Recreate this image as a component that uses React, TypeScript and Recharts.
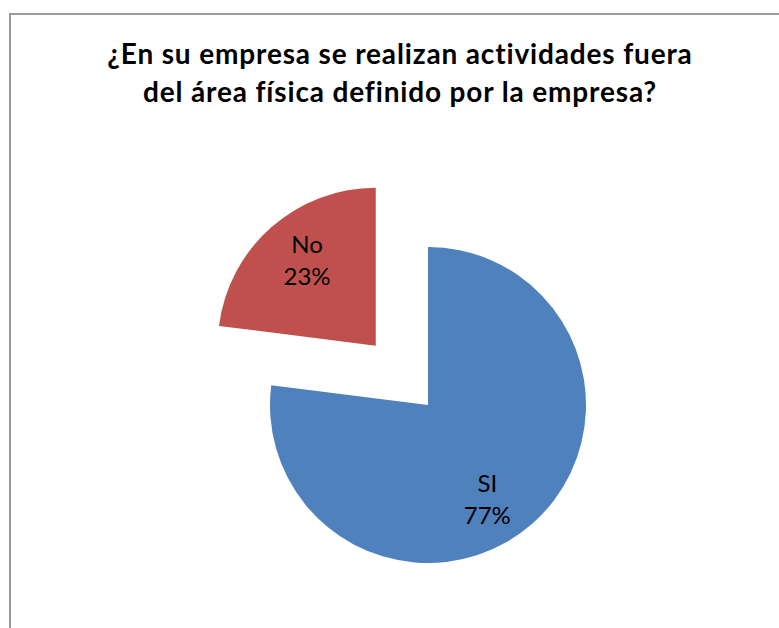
import React from 'react';
import { PieChart, Pie, Cell } from 'recharts';

// Datos del gráfico
const categories = ['SI', 'No'];
const values = [77, 23];
const colors = ['#4F81BD', '#C0504D'];
const titleLines = [
  '¿En su empresa se realizan actividades fuera',
  'del área física definido por la empresa?',
];

const W = 779;
const H = 628;
const CX = 428;
const CY = 405;
const R = 158;
const EXPLODE = 0.5; // sector "No" separado un 50% del radio
const explodedIndex = 1;
const labelShift = [9, 3]; // giro de las etiquetas en grados

const data = categories.map((name, i) => ({ name, value: values[i] }));

// desplazamiento del sector separado según su ángulo medio
const total = values.reduce((a, b) => a + b, 0);
const before = values.slice(0, explodedIndex).reduce((a, b) => a + b, 0);
const midTheta = ((before + values[explodedIndex] / 2) / total) * 2 * Math.PI;
const offX = Math.sin(midTheta) * R * EXPLODE;
const offY = -Math.cos(midTheta) * R * EXPLODE;

const FONT = 'Lato, "Open Sans", sans-serif';

const makeLabel = (visibleIndex: number) => (props: any) => {
  const { cx, cy, midAngle, outerRadius, index, name, percent } = props;
  if (index !== visibleIndex) return null;
  const a = ((midAngle - labelShift[index]) * Math.PI) / 180;
  const r = outerRadius * 0.7;
  const x = cx + r * Math.cos(a);
  const y = cy - r * Math.sin(a);
  return (
    <g>
      <text x={x} y={y - 16} textAnchor="middle" dominantBaseline="central" fontFamily={FONT} fontSize={24} fill="#000">
        {name}
      </text>
      <text x={x} y={y + 16} textAnchor="middle" dominantBaseline="central" fontFamily={FONT} fontSize={24} fill="#000">
        {`${Math.round(percent * 100)}%`}
      </text>
    </g>
  );
};

const App = () => {
  return (
    <div style={{ position: 'absolute', left: 0, top: 0, width: W, height: H, overflow: 'hidden', background: '#fff' }}>
      {/* Marco */}
      <div
        style={{
          position: 'absolute',
          left: 9,
          top: 13,
          width: 800,
          height: 700,
          border: '2px solid #9a9a9a',
          boxSizing: 'border-box',
        }}
      />

      {/* Título */}
      <div
        style={{
          position: 'absolute',
          left: 0,
          top: 34,
          width: 800,
          textAlign: 'center',
          fontFamily: FONT,
          fontWeight: 700,
          fontSize: 28,
          letterSpacing: 0.85,
          lineHeight: '38px',
          color: '#000',
        }}
      >
        {titleLines.map((l) => (
          <div key={l}>{l}</div>
        ))}
      </div>

      <div style={{ position: 'absolute', left: 0, top: 0 }}>
        <PieChart width={W} height={H} margin={{ top: 0, right: 0, bottom: 0, left: 0 }}>
          <Pie
            data={data}
            dataKey="value"
            nameKey="name"
            cx={CX}
            cy={CY}
            outerRadius={R}
            startAngle={90}
            endAngle={-270}
            stroke="none"
            labelLine={false}
            label={makeLabel(0)}
            isAnimationActive={false}
          >
            {data.map((d, i) => (
              <Cell key={d.name} fill={i === explodedIndex ? 'transparent' : colors[i]} />
            ))}
          </Pie>
          <Pie
            data={data}
            dataKey="value"
            nameKey="name"
            cx={CX + offX}
            cy={CY + offY}
            outerRadius={R}
            startAngle={90}
            endAngle={-270}
            stroke="none"
            labelLine={false}
            label={makeLabel(explodedIndex)}
            isAnimationActive={false}
          >
            {data.map((d, i) => (
              <Cell key={d.name} fill={i === explodedIndex ? colors[i] : 'transparent'} />
            ))}
          </Pie>
        </PieChart>
      </div>
    </div>
  );
};

export default App;
